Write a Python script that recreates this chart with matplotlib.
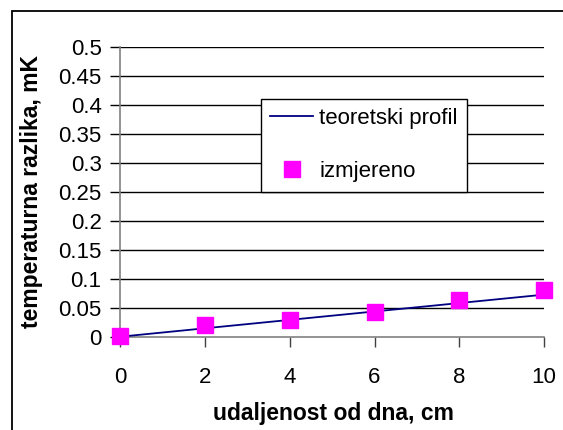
import numpy as np
import matplotlib.pyplot as plt
from matplotlib.patches import Rectangle

plt.rcParams['font.family'] = ['Liberation Sans', 'DejaVu Sans']

# theoretical profile
x_teor = [0, 2, 4, 6, 8, 10]
y_teor = [0, 0.0145, 0.029, 0.0435, 0.058, 0.0725]

# measured values
x_mjer = [0, 2, 4, 6, 8, 10]
y_mjer = [0.001, 0.020, 0.028, 0.042, 0.064, 0.080]

yticks = [0, 0.05, 0.1, 0.15, 0.2, 0.25, 0.3, 0.35, 0.4, 0.45, 0.5]
ytick_labels = ['0', '0.05', '0.1', '0.15', '0.2', '0.25', '0.3', '0.35', '0.4', '0.45', '0.5']

W, H = 563, 430
fig = plt.figure(figsize=(W / 100, H / 100), dpi=100)
# outer chart frame (right and bottom edges fall outside the image)
fig.patches.append(Rectangle((11.5 / W, -0.1), 1.2, 1 - 11.5 / H + 0.1,
                             transform=fig.transFigure, fill=False,
                             edgecolor='black', linewidth=1.3))

x0, x1, y0, y1 = 120.3, 544, 336.7, 46.7
ax = fig.add_axes([x0 / W, 1 - y0 / H, (x1 - x0) / W, (y0 - y1) / H])
ax.set_xlim(0, 10)
ax.set_ylim(0, 0.5)

for y in yticks[1:]:
    ax.axhline(y, color='black', linewidth=1, zorder=1)

ax.plot(x_teor, y_teor, color='#000080', linewidth=1.3, label='teoretski profil', zorder=3)
ax.plot(x_mjer, y_mjer, 's', color='#ff00ff', markersize=11, linestyle='none',
        label='izmjereno', zorder=4, clip_on=False)

for s in ['top', 'right']:
    ax.spines[s].set_visible(False)
ax.spines['left'].set_color('#808080')
ax.spines['bottom'].set_color('#808080')
ax.spines['left'].set_linewidth(1.2)
ax.spines['bottom'].set_linewidth(1.2)

ax.set_xticks([0, 2, 4, 6, 8, 10])
ax.set_yticks(yticks)
ax.set_yticklabels(ytick_labels)
ax.tick_params(axis='both', labelsize=16, direction='out', length=7.5, width=1)
ax.tick_params(axis='x', pad=14, color='#404040')
ax.tick_params(axis='y', pad=6, color='black')

ax.set_xlabel('udaljenost od dna, cm', fontsize=16.5, fontweight='bold', va='top')
ax.xaxis.set_label_coords((333 - x0) / (x1 - x0), (y0 - 402) / (y0 - y1))
ax.set_ylabel('temperaturna razlika, mK', fontsize=16.5, fontweight='bold')
ax.yaxis.set_label_coords((43 - x0) / (x1 - x0), 0.5)

lx, ly = (261 - x0) / (x1 - x0), (y0 - 98.7) / (y0 - y1)
leg = ax.legend(loc='upper left', bbox_to_anchor=(lx, ly),
                fontsize=16, frameon=True, fancybox=False, edgecolor='black',
                borderpad=0.42, labelspacing=1.45, handlelength=1.94, handletextpad=0.27,
                borderaxespad=0, framealpha=1)
leg.get_frame().set_linewidth(1)
leg.set_zorder(5)

fig.savefig('out.png', dpi=100)
